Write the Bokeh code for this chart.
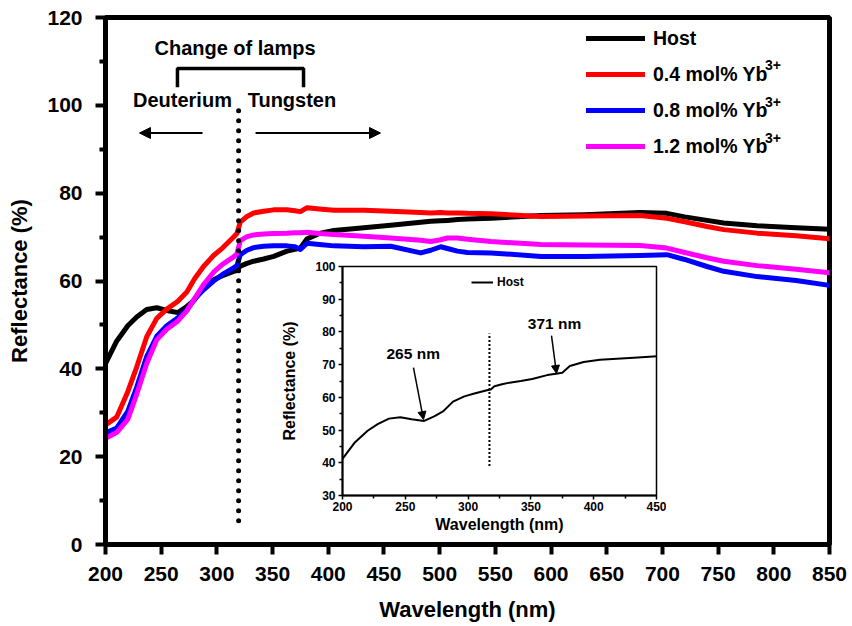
from bokeh.plotting import figure
from bokeh.models import (Range1d, Legend, LegendItem, Arrow, NormalHead, FixedTicker)
from bokeh.embed import file_html
from bokeh.resources import INLINE
from bokeh.core.properties import value

FONT = "Liberation Sans"

# ---------------- data ----------------
wavelength = [200, 210, 220, 228, 237, 246, 255, 265, 273, 280, 288, 297, 305, 315, 318,
              321, 327, 333, 342, 351, 363, 370, 375, 381, 392, 405, 432, 456, 483, 492,
              501, 507, 516, 525, 546, 591, 630, 680, 704, 720, 740, 755, 785, 820, 850]

host = [41.2, 46.3, 49.8, 51.8, 53.5, 53.9, 53.3, 52.8, 54.2, 55.7, 58.7, 60.3, 61.2, 62.2, 62.4,
        63.4, 64.0, 64.5, 65.0, 65.6, 66.8, 67.2, 67.5, 69.6, 70.8, 71.5, 72.1, 72.7, 73.4, 73.6,
        73.7, 73.8, 74.0, 74.1, 74.3, 74.9, 75.1, 75.6, 75.4, 74.6, 73.8, 73.2, 72.6, 72.1, 71.8]

yb04 = [27.2, 29.0, 34.8, 40.4, 47.3, 51.5, 53.6, 55.4, 57.5, 60.5, 63.3, 65.8, 67.5, 70.0, 70.8,
        73.4, 74.7, 75.5, 75.9, 76.2, 76.2, 76.0, 75.8, 76.7, 76.4, 76.1, 76.1, 75.9, 75.6, 75.5,
        75.6, 75.5, 75.5, 75.4, 75.3, 74.7, 74.8, 74.9, 74.3, 73.5, 72.4, 71.7, 70.9, 70.3, 69.6]

yb08 = [25.4, 26.5, 30.3, 35.8, 42.8, 47.4, 49.8, 51.6, 53.5, 55.9, 58.0, 60.0, 61.5, 63.0, 63.5,
        66.0, 67.0, 67.6, 67.9, 68.0, 68.0, 67.8, 67.2, 68.6, 68.3, 68.0, 67.8, 67.9, 66.4, 67.0,
        67.8, 67.4, 66.8, 66.5, 66.4, 65.6, 65.6, 65.8, 66.0, 64.9, 63.3, 62.2, 61.0, 60.1, 59.0]

yb12 = [24.2, 25.5, 28.5, 34.2, 41.2, 46.6, 49.0, 50.9, 53.2, 56.0, 59.2, 62.0, 63.8, 65.5, 66.2,
        69.2, 70.1, 70.5, 70.7, 70.8, 70.9, 71.0, 71.0, 71.1, 70.8, 70.6, 70.2, 69.8, 69.3, 69.0,
        69.4, 69.8, 69.8, 69.5, 69.0, 68.3, 68.2, 68.1, 67.5, 66.5, 65.3, 64.5, 63.5, 62.7, 61.9]

series_names = ["Host", "0.4 mol% Yb", "0.8 mol% Yb", "1.2 mol% Yb"]
series_colors = ["#000000", "#ff0000", "#0000ff", "#ff00ff"]

x_ticks = list(range(200, 851, 50))
y_ticks = [0, 20, 40, 60, 80, 100, 120]
y_minor = [10, 30, 50, 70, 90, 110]

# inset: host spectrum 200-450 nm (same data, cropped by the inset range)
inset_wl = [w for w in wavelength if w <= 460]
inset_host = host[:len(inset_wl)]
inset_x_ticks = [200, 250, 300, 350, 400, 450]
inset_x_minor = [225, 275, 325, 375, 425]
inset_y_ticks = [30, 40, 50, 60, 70, 80, 90, 100]
inset_y_minor = [35, 45, 55, 65, 75, 85, 95]

lamp_change_nm = 319.5

# ---------------- main figure ----------------
p = figure(width=850, height=624, output_backend="svg", toolbar_location=None,
           x_range=Range1d(200, 850), y_range=Range1d(0, 120),
           min_border_left=105, min_border_right=21, min_border_top=17, min_border_bottom=78,
           background_fill_color="white", border_fill_color="white")
p.xgrid.visible = False
p.ygrid.visible = False
p.outline_line_color = "black"
p.outline_line_width = 5

for ax in (p.xaxis[0], p.yaxis[0]):
    ax.axis_line_width = 5
    ax.major_tick_line_width = 4
    ax.major_tick_out = 10
    ax.major_tick_in = 0
    ax.major_label_text_font = FONT
    ax.major_label_text_font_style = "bold"
    ax.major_label_text_font_size = "21px"
    ax.major_label_text_color = "black"
    ax.axis_label_text_font = FONT
    ax.axis_label_text_font_style = "bold"
    ax.axis_label_text_font_size = "22px"
    ax.axis_label_text_color = "black"

p.xaxis.ticker = FixedTicker(ticks=x_ticks)
p.xaxis.minor_tick_line_color = None
p.xaxis.major_label_standoff = 12
p.xaxis.axis_label_standoff = 13
p.xaxis.axis_label = "Wavelength (nm)"

p.yaxis.ticker = FixedTicker(ticks=y_ticks, minor_ticks=y_minor)
p.yaxis.minor_tick_out = 6
p.yaxis.minor_tick_in = 0
p.yaxis.minor_tick_line_width = 4
p.yaxis.major_label_standoff = 13
p.yaxis.axis_label_standoff = 12
p.yaxis.axis_label = "Reflectance (%)"

renderers = []
for ys, c in zip([host, yb04, yb08, yb12], series_colors):
    r = p.line(wavelength, ys, line_color=c, line_width=5, line_join="round", line_cap="round")
    renderers.append(r)

legend = Legend(items=[LegendItem(label=n, renderers=[r]) for n, r in zip(series_names, renderers)],
                location=(481, 386), orientation="vertical",
                glyph_width=59, glyph_height=24, label_height=24, spacing=12,
                label_standoff=8, padding=0, margin=0,
                border_line_color=None, background_fill_alpha=0,
                label_text_font=FONT, label_text_font_style="bold",
                label_text_font_size="19.5px", label_text_color="black")
p.add_layout(legend)

# superscripts of the legend labels
p.text(x=[792, 792, 792], y=[109.1, 100.8, 92.6], text=["3+", "3+", "3+"],
       text_font=value(FONT), text_font_style="bold", text_font_size="14px",
       text_align="left", text_baseline="middle", text_color="black")

# lamp change annotation
p.line([lamp_change_nm, lamp_change_nm], [5.4, 101], line_color="black", line_width=5,
       line_dash="0 10", line_cap="round")
p.line([264.6, 264.6, 377.8, 377.8], [104.1, 108.4, 108.4, 104.1],
       line_color="black", line_width=3.5)
p.text(x=[316.3], y=[113.0], text=["Change of lamps"], text_font=value(FONT),
       text_font_style="bold", text_font_size="20px", text_align="center",
       text_baseline="middle", text_color="black")
p.text(x=[269.1, 367.4], y=[101.2, 101.2], text=["Deuterium", "Tungsten"], text_font=value(FONT),
       text_font_style="bold", text_font_size="20px", text_align="center",
       text_baseline="middle", text_color="black")
p.add_layout(Arrow(end=NormalHead(size=11, fill_color="black", line_color="black"),
                   x_start=287.1, y_start=93.7, x_end=230.5, y_end=93.7,
                   line_color="black", line_width=2))
p.add_layout(Arrow(end=NormalHead(size=11, fill_color="black", line_color="black"),
                   x_start=334.7, y_start=93.7, x_end=446.9, y_end=93.7,
                   line_color="black", line_width=2))

# ---------------- inset figure ----------------
ins = figure(width=390, height=285, output_backend="svg", toolbar_location=None,
             x_range=Range1d(200, 450), y_range=Range1d(30, 100),
             min_border_left=66, min_border_right=10, min_border_top=8, min_border_bottom=48,
             background_fill_color="white", border_fill_color=None,
             styles={"position": "absolute", "left": "276px", "top": "258px"})
ins.xgrid.visible = False
ins.ygrid.visible = False
ins.outline_line_color = "black"
ins.outline_line_width = 1.5

for ax in (ins.xaxis[0], ins.yaxis[0]):
    ax.axis_line_width = 2
    ax.major_tick_line_width = 1.5
    ax.major_tick_out = 4
    ax.major_tick_in = 0
    ax.minor_tick_line_width = 1.5
    ax.minor_tick_out = 3
    ax.minor_tick_in = 0
    ax.major_label_text_font = FONT
    ax.major_label_text_font_style = "bold"
    ax.major_label_text_font_size = "12px"
    ax.major_label_text_color = "black"
    ax.axis_label_text_font = FONT
    ax.axis_label_text_font_style = "bold"
    ax.axis_label_text_font_size = "16px"
    ax.axis_label_text_color = "black"

ins.xaxis.ticker = FixedTicker(ticks=inset_x_ticks, minor_ticks=inset_x_minor)
ins.xaxis.major_label_standoff = 2
ins.xaxis.axis_label_standoff = 2
ins.xaxis.axis_label = "Wavelength (nm)"
ins.yaxis.ticker = FixedTicker(ticks=inset_y_ticks, minor_ticks=inset_y_minor)
ins.yaxis.major_label_standoff = 3
ins.yaxis.axis_label_standoff = 14
ins.yaxis.axis_label = "Reflectance (%)"

r_in = ins.line(inset_wl, inset_host, line_color="black", line_width=2, line_join="round")
ins_legend = Legend(items=[LegendItem(label="Host", renderers=[r_in])],
                    location=(129, 206), glyph_width=22, glyph_height=14, label_height=14,
                    label_standoff=4, padding=0, margin=0, border_line_color=None,
                    background_fill_alpha=0, label_text_font=FONT,
                    label_text_font_style="bold", label_text_font_size="12px",
                    label_text_color="black")
ins.add_layout(ins_legend)

ins.line([317, 317], [39, 79.5], line_color="black", line_width=2, line_dash="2 2")
ins.text(x=[256.3, 368.8], y=[73.5, 82.6], text=["265 nm", "371 nm"], text_font=value(FONT),
         text_font_style="bold", text_font_size="15.5px", text_align="center",
         text_baseline="middle", text_color="black")
ins.add_layout(Arrow(end=NormalHead(size=8, fill_color="black", line_color="black"),
                     x_start=256.5, y_start=69.1, x_end=264.5, y_end=53.2,
                     line_color="black", line_width=1.5))
ins.add_layout(Arrow(end=NormalHead(size=8, fill_color="black", line_color="black"),
                     x_start=366.4, y_start=78.9, x_end=370.4, y_end=67.3,
                     line_color="black", line_width=1.5))

open("out.html", "w").write(file_html([p, ins], INLINE))
